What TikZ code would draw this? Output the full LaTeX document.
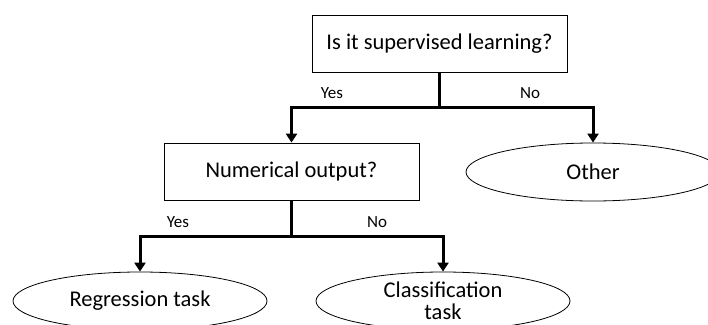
\documentclass[tikz,border=0pt]{standalone}
\usepackage{fontspec}
\setmainfont{Carlito}
\usepackage{tikz}
\usetikzlibrary{shapes.geometric, arrows.meta, positioning}
\tikzstyle{questionbox} = [rectangle, draw=black, line width=0.8pt, minimum width=255pt, minimum height=57pt,
                           text centered, font=\fontsize{22.5}{24}\selectfont]
\tikzstyle{arrow} = [line width=3pt, ->, >={Triangle[width=11pt, length=9pt]}]

\begin{document}
\begin{tikzpicture}[
    x=1pt, y=-1pt,
    answer/.style={ellipse, draw=black, line width=0.8pt, minimum width=254pt, minimum height=58pt, inner sep=0pt,
                   align=center, font=\fontsize{22.5}{22}\selectfont},
    branchlabel/.style={font=\fontsize{17}{18}\selectfont, inner sep=0pt},
]
\useasboundingbox (0,0) rectangle (708,324);

% Questions
\node[questionbox] (supervised) at (439.5, 43.5) {Is it supervised learning?};
\node[questionbox] (numerical) at (291.5, 171.5) {Numerical output?};

% Outcomes
\node[answer] (other) at (593, 172) {Other};
\node[answer] (regression) at (140, 301) {Regression task};
\node[answer] (classification) at (443, 301) {Classification\\task};

% Arrows from first question
\draw[arrow] (supervised.south) -- ++(0,35) -| (numerical.north);
\draw[arrow] (supervised.south) -- ++(0,35) -| (other.north);

% Arrows from second question
\draw[arrow] (numerical.south) -- ++(0,36) -| (regression.north);
\draw[arrow] (numerical.south) -- ++(0,36) -| (classification.north);

% Branch labels
\node[branchlabel] (yes1) at (332, 93) {Yes};
\node[branchlabel] (no1) at (530, 93) {No};
\node[branchlabel] (yes2) at (178, 222) {Yes};
\node[branchlabel] (no2) at (377, 222) {No};

\end{tikzpicture}
\end{document}
